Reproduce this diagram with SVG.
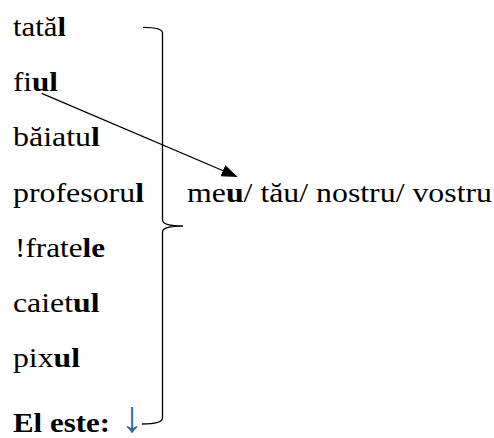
<svg xmlns="http://www.w3.org/2000/svg" width="494" height="438" viewBox="0 0 494 438">
<style>
.t{font-family:"Liberation Serif","Times New Roman",serif;font-size:28px;fill:#000}
.b{font-weight:bold}
.ln{fill:none;stroke:#000;stroke-width:1.3}
</style>
<defs>
<marker id="ah" markerWidth="16" markerHeight="12" refX="15" refY="6" orient="auto" markerUnits="userSpaceOnUse">
<path d="M0,0 L16,6 L0,12 Z" fill="#000"/>
</marker>
</defs>
<rect width="494" height="438" fill="#fff"/>
<g id="n-tatal"><text class="t" x="13" y="36" textLength="53" lengthAdjust="spacingAndGlyphs">tată<tspan class="b">l</tspan></text></g>
<g id="n-fiul"><text class="t" x="13" y="91" textLength="45" lengthAdjust="spacingAndGlyphs">fi<tspan class="b">ul</tspan></text></g>
<g id="n-baiatul"><text class="t" x="13" y="146" textLength="87" lengthAdjust="spacingAndGlyphs">băiatu<tspan class="b">l</tspan></text></g>
<g id="n-profesorul"><text class="t" x="13" y="201.5" textLength="131" lengthAdjust="spacingAndGlyphs">profesoru<tspan class="b">l</tspan></text></g>
<g id="n-fratele"><text class="t" x="15" y="256.5" textLength="90" lengthAdjust="spacingAndGlyphs">!frate<tspan class="b">le</tspan></text></g>
<g id="n-caietul"><text class="t" x="13" y="311.5" textLength="86.5" lengthAdjust="spacingAndGlyphs">caiet<tspan class="b">ul</tspan></text></g>
<g id="n-pixul"><text class="t" x="13" y="367" textLength="67" lengthAdjust="spacingAndGlyphs">pix<tspan class="b">ul</tspan></text></g>
<g id="n-el-este"><text class="t b" x="13" y="431.5" textLength="97" lengthAdjust="spacingAndGlyphs">El este:</text></g>
<g id="n-arrow-down"><text class="t" x="121" y="431.5" style="font-size:44px;fill:#2e6496">↓</text></g>
<g id="n-meu"><text class="t" x="187" y="201.5" textLength="305" lengthAdjust="spacingAndGlyphs">me<tspan class="b">u</tspan>/ tău/ nostru/ vostru</text></g>
<g id="connectors">
<path class="ln" d="M143,27.3 Q162.5,27.3 162.5,33 L162.5,220 Q162.5,226 183,226 Q162.5,226 162.5,232 L162.5,418 Q162.5,424 142,424"/>
<line class="ln" x1="41.7" y1="93.3" x2="236.7" y2="176.5" marker-end="url(#ah)"/>
</g>
</svg>
